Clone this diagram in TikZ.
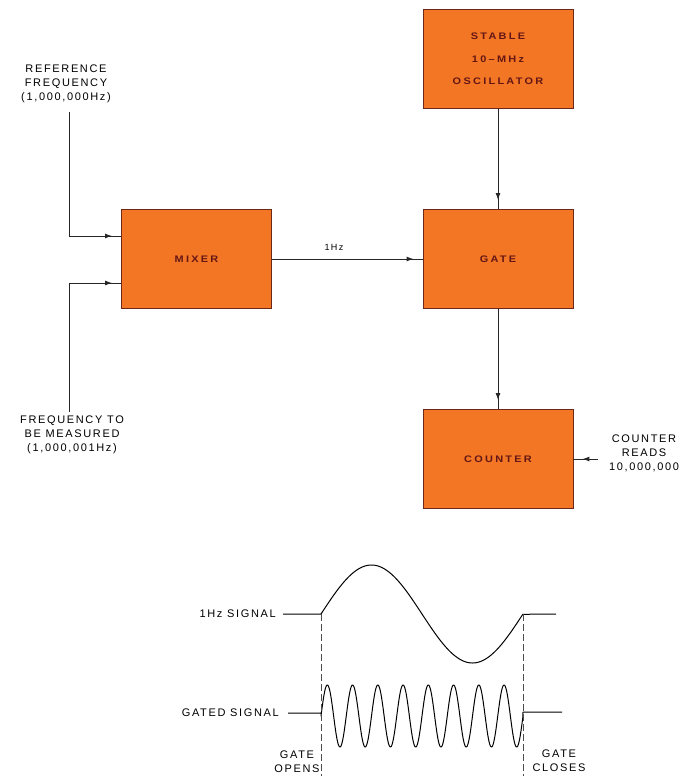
\documentclass[tikz,border=0pt]{standalone}
\usepackage{fontspec}
\setmainfont{Liberation Sans}
\newfontfamily\lab[LetterSpace=15]{Liberation Sans}
\newfontfamily\boxf[LetterSpace=24,FakeStretch=1.15]{Liberation Sans}
\usetikzlibrary{arrows.meta,decorations.markings}
\definecolor{boxorange}{RGB}{242,118,36}
\definecolor{boxedge}{RGB}{110,40,25}
\definecolor{boxtext}{RGB}{100,22,22}
\tikzset{
  block/.style={draw=boxedge, line width=0.9pt, fill=boxorange, minimum width=150pt,
    minimum height=99pt, inner sep=0pt, text=boxtext,
    font=\boxf\bfseries\fontsize{9.5}{22.5}\selectfont, align=center},
  conn/.style={line width=1pt, draw=black!85},
  arrowat/.style={postaction={decorate}, decoration={markings,
    mark=at position -9pt with {\arrow{Latex[length=7pt,width=5pt]}}}},
  lbl/.style={font=\lab\fontsize{11}{14}\selectfont, align=center, inner sep=0pt},
  smalllbl/.style={font=\lab\fontsize{9}{11}\selectfont, inner sep=0pt},
  wave/.style={line width=1pt, line join=round},
  gateline/.style={line width=0.5pt, dash pattern=on 7pt off 3pt, draw=black!70}
}
\begin{document}
\begin{tikzpicture}[x=1pt,y=-1pt]
\useasboundingbox (0,0) rectangle (690,776);

% blocks
\node[block] (osc) at (498,59) {STABLE\\10–MHz\\OSCILLATOR};
\node[block] (gate) at (498,259) {GATE};
\node[block] (mixer) at (196.5,259) {MIXER};
\node[block] (counter) at (498,459) {COUNTER};

% labels
\node[lbl] (reflbl) at (66,84) {REFERENCE\\FREQUENCY\\(1,000,000Hz)};
\node[lbl] (measlbl) at (72,435) {FREQUENCY TO\\BE MEASURED\\(1,000,001Hz)};
\node[lbl] (cntlbl) at (644,453) {COUNTER\\READS\\10,000,000};
\node[smalllbl] (hzlbl) at (334,247) {1Hz};

% connectors
\coordinate (r1) at (69,112);
\coordinate (r2) at (69,412);
\coordinate (c1) at (598,459);
\draw[conn,arrowat] (r1) |- ([yshift=23pt]mixer.west);
\draw[conn,arrowat] (r2) |- ([yshift=-24pt]mixer.west);
\draw[conn,arrowat] (mixer.east) -- (gate.west);
\draw[conn,arrowat] (osc.south) -- (gate.north);
\draw[conn,arrowat] (gate.south) -- (counter.north);
\draw[conn,arrowat] (c1) -- (counter.east);

% waveforms
\node[lbl, anchor=east] (sig1) at (276,614) {1Hz SIGNAL};
\node[lbl, anchor=east] (sig2) at (279,713) {GATED SIGNAL};
\draw[wave] (283,614) -- (321,614)
  -- plot[domain=0:1,samples=200] ({321+202*\x},{614-49*sin(360*\x)})
  -- (556,614);
\draw[wave] (288,713) -- (321,713)
  -- plot[domain=0:1,samples=500] ({321+202*\x},{716-31*sin(8*360*\x)})
  -- (523,712) -- (562,712);

\draw[gateline] (321,614) -- (321,776);
\draw[gateline] (523,614) -- (523,776);

\node[lbl] (opens) at (297,762) {GATE\\OPENS};
\node[lbl] (closes) at (559,761) {GATE\\CLOSES};
\end{tikzpicture}
\end{document}
